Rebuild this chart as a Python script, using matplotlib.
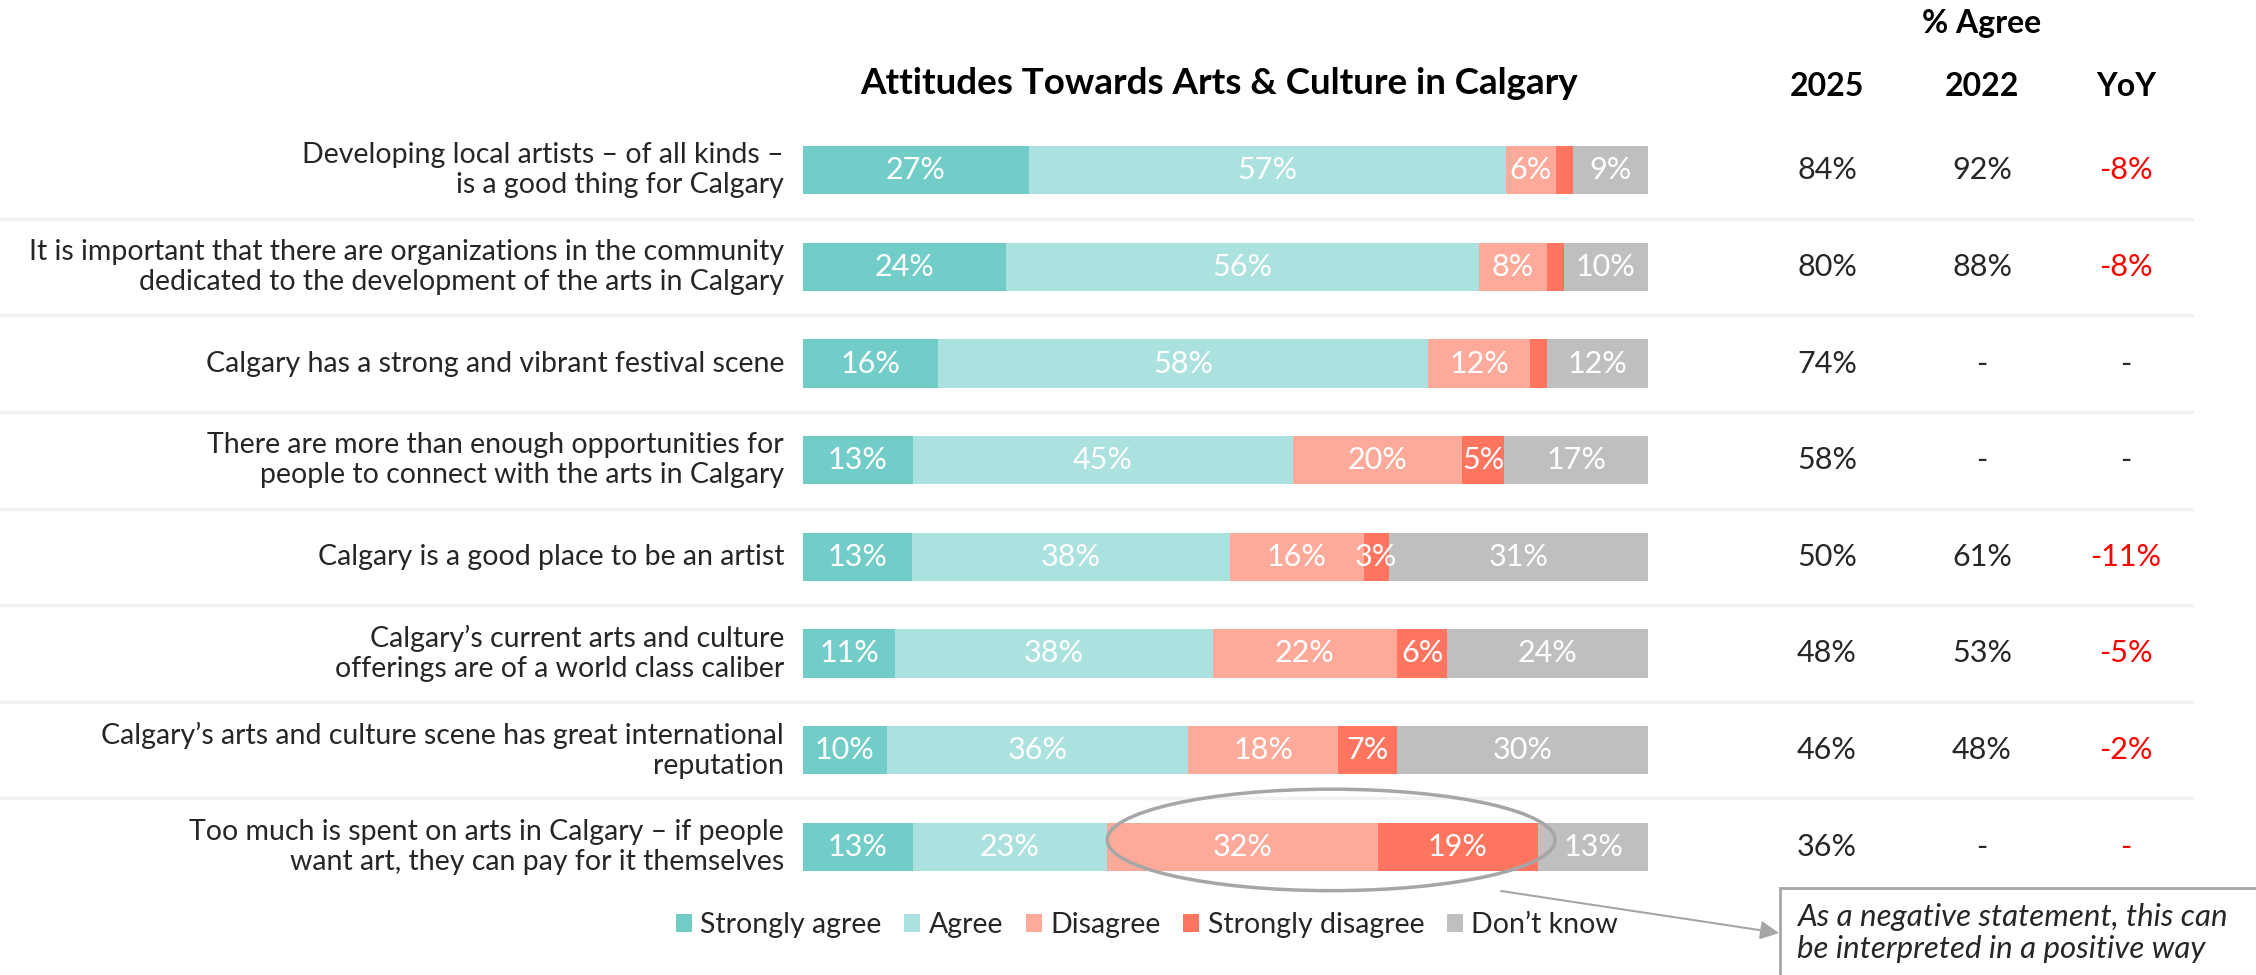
import numpy as np
import matplotlib
matplotlib.use("Agg")
import matplotlib.pyplot as plt
from matplotlib.patches import Patch, Ellipse, Rectangle
from matplotlib.transforms import blended_transform_factory

plt.rcParams['font.family'] = ['Lato', 'DejaVu Sans']

statements = [
    "Developing local artists \u2013 of all kinds \u2013\nis a good thing for Calgary",
    "It is important that there are organizations in the community\ndedicated to the development of the arts in Calgary",
    "Calgary has a strong and vibrant festival scene",
    "There are more than enough opportunities for\npeople to connect with the arts in Calgary",
    "Calgary is a good place to be an artist",
    "Calgary\u2019s current arts and culture\nofferings are of a world class caliber",
    "Calgary\u2019s arts and culture scene has great international\nreputation",
    "Too much is spent on arts in Calgary \u2013 if people\nwant art, they can pay for it themselves",
]
categories = ["Strongly agree", "Agree", "Disagree", "Strongly disagree", "Don\u2019t know"]
colors = ["#72CDC9", "#ABE2DF", "#FEAA9B", "#FF755F", "#BFBFBF"]

strongly_agree = [27, 24, 16, 13, 13, 11, 10, 13]
agree = [57, 56, 58, 45, 38, 38, 36, 23]
disagree = [6, 8, 12, 20, 16, 22, 18, 32]
strongly_disagree = [2, 2, 2, 5, 3, 6, 7, 19]
dont_know = [9, 10, 12, 17, 31, 24, 30, 13]
show_sd_label = [False, False, False, True, True, True, True, True]

agree_2025 = ["84%", "80%", "74%", "58%", "50%", "48%", "46%", "36%"]
agree_2022 = ["92%", "88%", "-", "-", "61%", "53%", "48%", "-"]
yoy = ["-8%", "-8%", "-", "-", "-11%", "-5%", "-2%", "-"]
yoy_red = [True, True, False, False, True, True, True, True]

W, H = 2256, 975
fig = plt.figure(figsize=(W / 100, H / 100), dpi=100)
fig.patch.set_facecolor("white")

# bar panel
ax = fig.add_axes([803 / W, 1 - 895 / H, 845 / W, (895 - 122) / H])
ax.set_xlim(0, 100)
ax.set_ylim(len(statements) - 0.5, -0.5)
ax.axis("off")

data = np.array([strongly_agree, agree, disagree, strongly_disagree, dont_know], dtype=float)
shares = data / data.sum(axis=0) * 100
lefts = np.vstack([np.zeros(len(statements)), np.cumsum(shares, axis=0)[:-1]])
y = np.arange(len(statements))

for i in range(len(categories)):
    ax.barh(y, shares[i], left=lefts[i], height=0.5, color=colors[i], label=categories[i])
    for j in range(len(statements)):
        if i == 3 and not show_sd_label[j]:
            continue
        ax.text(lefts[i][j] + shares[i][j] / 2, j, "%d%%" % data[i][j],
                ha="center", va="center", color="white", fontsize=22)

fx = blended_transform_factory(fig.transFigure, ax.transData)

# row labels and separators
for j, s in enumerate(statements):
    ax.text(784 / W, j, s, transform=fx, ha="right", va="center",
            fontsize=20.5, color="#262626", linespacing=1.2)
    if j < len(statements) - 1:
        ax.plot([0, 2192 / W], [j + 0.5, j + 0.5], transform=fx,
                color="#F2F2F2", lw=2.5, clip_on=False, zorder=0)

# table on the right
col_x = [1827 / W, 1982 / W, 2126 / W]
for j in range(len(statements)):
    ax.text(col_x[0], j, agree_2025[j], transform=fx, ha="center", va="center",
            fontsize=22, color="#262626")
    ax.text(col_x[1], j, agree_2022[j], transform=fx, ha="center", va="center",
            fontsize=22, color="#262626")
    ax.text(col_x[2], j, yoy[j], transform=fx, ha="center", va="center",
            fontsize=22, color="#FF0000" if yoy_red[j] else "#262626")

fig.text(col_x[1], 1 - 24 / H, "% Agree", ha="center", va="center",
         fontsize=23, fontweight="bold")
for x, h in zip(col_x, ["2025", "2022", "YoY"]):
    fig.text(x, 1 - 87 / H, h, ha="center", va="center", fontsize=23, fontweight="bold")

fig.text(1219 / W, 1 - 83 / H, "Attitudes Towards Arts & Culture in Calgary",
         ha="center", va="center", fontsize=26.5, fontweight="bold")

# legend
handles = [Patch(facecolor=c, edgecolor="none") for c in colors]
fig.legend(handles, categories, loc="center", bbox_to_anchor=(1147 / W, 1 - 925 / H),
           ncol=5, frameon=False, fontsize=20.5, handlelength=0.55, handleheight=0.55,
           handletextpad=0.3, columnspacing=0.8, labelcolor="#262626")

# highlight on the last (negative) statement
last = len(statements) - 1
e_left = lefts[2][last]
e_right = lefts[3][last] + shares[3][last] + 2
ax.add_patch(Ellipse(((e_left + e_right) / 2, last - 0.07), e_right - e_left, 1.05,
                     facecolor="none", edgecolor="#A6A6A6", lw=2.5, clip_on=False, zorder=5))

fig.add_artist(Rectangle((1780 / W, -0.05), 0.3, (975 - 888) / H + 0.05,
                         transform=fig.transFigure, facecolor="white",
                         edgecolor="#A6A6A6", lw=2))
fig.text(1797 / W, 1 - 933 / H,
         "As a negative statement, this can\nbe interpreted in a positive way",
         ha="left", va="center", fontsize=22.5, style="italic", color="#262626",
         linespacing=1.15)
ax.annotate("", xy=(1779 / W, 1 - 933 / H), xycoords="figure fraction",
            xytext=(1501 / W, 1 - 891 / H), textcoords="figure fraction",
            arrowprops=dict(arrowstyle="-|>", color="#A6A6A6", lw=1.5,
                            mutation_scale=28, shrinkA=0, shrinkB=0))

fig.savefig("out.png", dpi=100, facecolor="white")
